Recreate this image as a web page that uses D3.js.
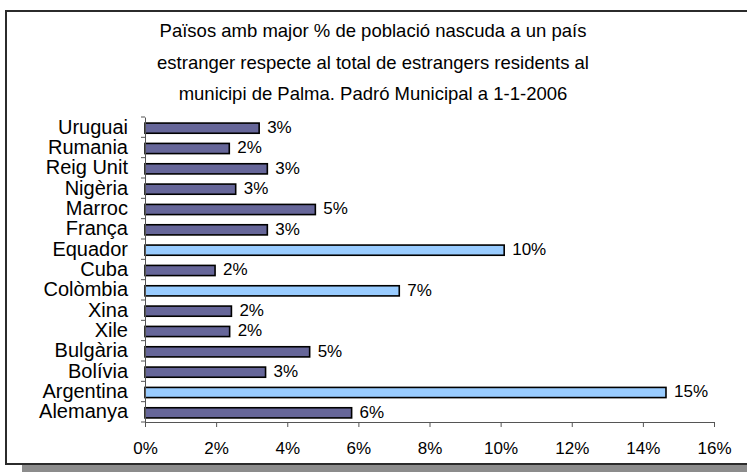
<!DOCTYPE html>
<html>
<head>
<meta charset="utf-8">
<script src="https://cdn.jsdelivr.net/npm/d3@7/dist/d3.min.js"></script>
<style>
	body { margin: 0; background: #fff; }
	svg { display: block; font-family: "Liberation Sans", Arial, sans-serif; }
</style>
</head>
<body>
<svg width="747" height="472"></svg>
<script>
// countries top to bottom as they appear in the chart
var countries = ["Uruguai", "Rumania", "Reig Unit", "Nigèria", "Marroc", "França", "Equador", "Cuba",
	"Colòmbia", "Xina", "Xile", "Bulgària", "Bolívia", "Argentina", "Alemanya"]
var shares = [3.21, 2.37, 3.44, 2.55, 4.79, 3.44, 10.1, 1.97, 7.15, 2.43, 2.38, 4.63, 3.39, 14.65, 5.81]
var highlighted = ["Equador", "Colòmbia", "Argentina"]
var xTicks = [0, 2, 4, 6, 8, 10, 12, 14, 16]
var titleLines = ["Països amb major % de població nascuda a un país",
	"estranger respecte al total de estrangers residents al",
	"municipi de Palma. Padró Municipal a 1-1-2006"]

var svg = d3.select("svg")

// shadow + frame
svg.append("rect").attr("x", 22).attr("y", 465).attr("width", 730).attr("height", 8).attr("fill", "#8c8c8c")
svg.append("rect").attr("x", 6).attr("y", 11).attr("width", 750).attr("height", 453)
	.attr("fill", "#fff").attr("stroke", "#2b2b2b").attr("stroke-width", 2)

svg.append("g").selectAll("text")
	.data(titleLines)
	.enter().append("text")
	.attr("x", 373)
	.attr("y", function(d, i) { return 37 + i * 31.7 })
	.attr("text-anchor", "middle")
	.attr("font-size", 18.5)
	.attr("fill", "#000")
	.text(function(d) { return d })

var x = d3.scaleLinear().domain([0, 16]).range([145, 714])
var y = d3.scaleBand().domain(countries).range([117, 422]).paddingInner(0.5).paddingOuter(0.25)

// bars
svg.append("g").selectAll("rect")
	.data(countries)
	.enter().append("rect")
	.attr("x", x(0))
	.attr("y", function(d) { return y(d) + 1 })
	.attr("width", function(d, i) { return x(shares[i]) - x(0) })
	.attr("height", y.bandwidth())
	.attr("fill", function(d) { return highlighted.indexOf(d) >= 0 ? "#99ccff" : "#666699" })
	.attr("stroke", "#000")
	.attr("stroke-width", 1.6)

// value labels
svg.append("g").selectAll("text")
	.data(countries)
	.enter().append("text")
	.attr("x", function(d, i) { return x(shares[i]) + 8 })
	.attr("y", function(d) { return y(d) + y.bandwidth() / 2 })
	.attr("dy", "0.35em")
	.attr("font-size", 17)
	.text(function(d, i) { return Math.round(shares[i]) + "%" })

// x axis
var xAxis = svg.append("g")
	.attr("transform", "translate(0,422)")
	.call(d3.axisBottom(x).tickValues(xTicks).tickSize(5).tickPadding(15).tickFormat(function(d) { return d + "%" }))
xAxis.selectAll("path, line").attr("stroke", "#555")
xAxis.selectAll("text").attr("font-size", 17).attr("font-family", "Liberation Sans, Arial, sans-serif").attr("fill", "#000")

// y axis: ticks sit on category boundaries
var yAxis = svg.append("g")
	.attr("transform", "translate(145,0)")
	.call(d3.axisLeft(y).tickSize(0).tickPadding(17))
yAxis.select("path").attr("stroke", "#555")
yAxis.selectAll("text").attr("font-size", 20).attr("font-family", "Liberation Sans, Arial, sans-serif").attr("fill", "#000")

var step = y.step()
yAxis.selectAll(".bound")
	.data(d3.range(countries.length + 1))
	.enter().append("line")
	.attr("x1", -4).attr("x2", 0)
	.attr("y1", function(d) { return 117 + d * step })
	.attr("y2", function(d) { return 117 + d * step })
	.attr("stroke", "#555")
</script>
</body>
</html>
